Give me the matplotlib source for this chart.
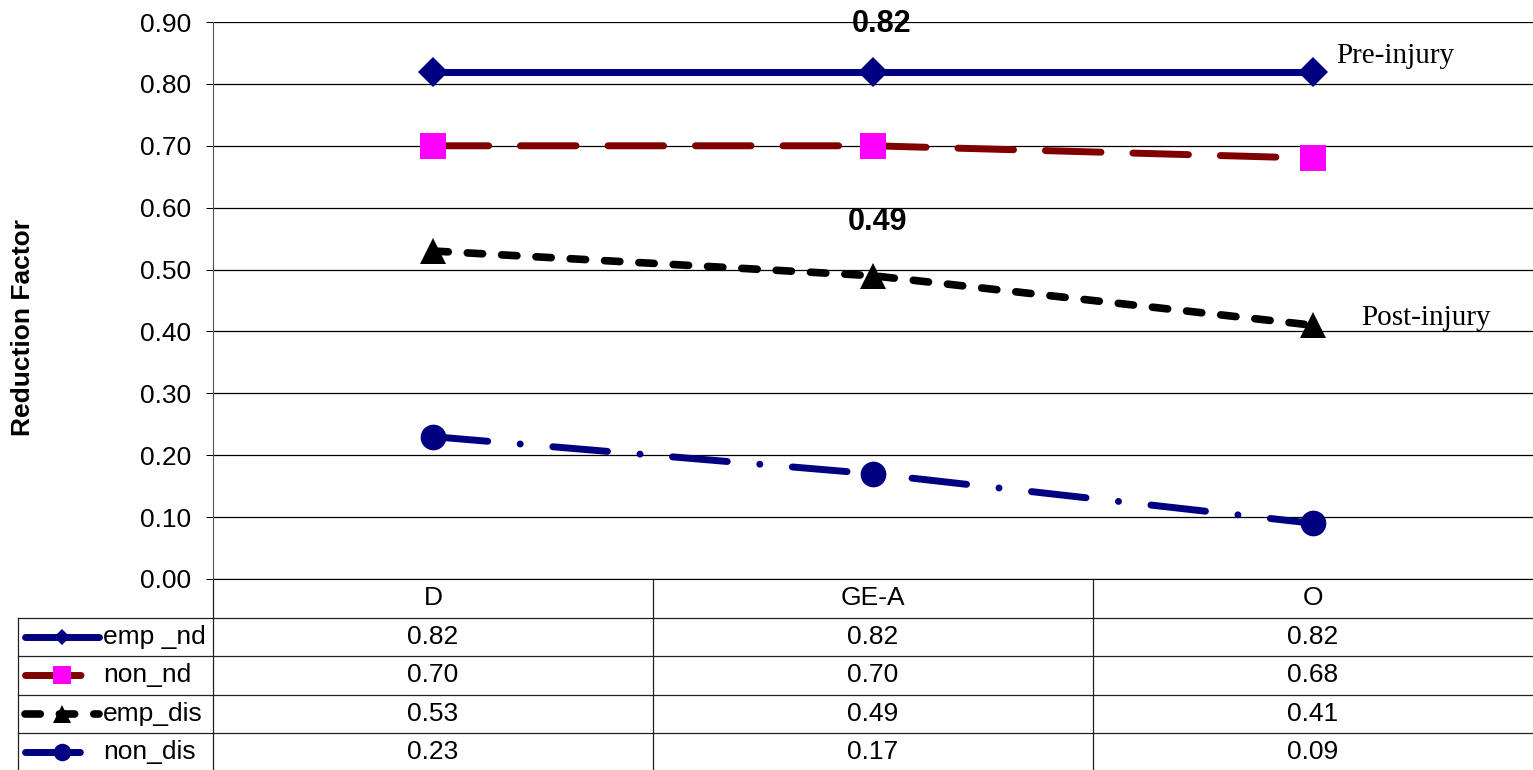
import numpy as np
import matplotlib
matplotlib.use("Agg")
import matplotlib.pyplot as plt

plt.rcParams['font.family'] = ['Liberation Sans', 'DejaVu Sans']

# --- data ---
categories = ["D", "GE-A", "O"]
series_names = ["emp _nd", "non_nd", "emp_dis", "non_dis"]
emp_nd = [0.82, 0.82, 0.82]
non_nd = [0.70, 0.70, 0.68]
emp_dis = [0.53, 0.49, 0.41]
non_dis = [0.23, 0.17, 0.09]
values = [emp_nd, non_nd, emp_dis, non_dis]

# --- styles ---
navy = '#000080'
styles = [
    dict(color=navy, lw=5, ls='-', marker='D', ms=15, mfc=navy, mec=navy),
    dict(color='#800000', lw=5, ls=(0, (8, 4.6)), marker='s', ms=18.5,
         mfc='#FF00FF', mec='#FF00FF'),
    dict(color='black', lw=5.5, ls=(0, (2, 2.5)), marker='^', ms=18.5,
         mfc='black', mec='black'),
    dict(color=navy, lw=5, ls=(0, (7.9, 4.7, 0.01, 4.7)), marker='o', ms=18.5,
         mfc=navy, mec=navy),
]
legend_scale = [0.56, 0.68, 0.68, 0.68]

W, H = 1533, 770
fig = plt.figure(figsize=(W / 100, H / 100), dpi=100)
ax = fig.add_axes([213 / W, 191 / H, 1320 / W, 557 / H])

x = np.arange(len(categories))
for vals, st in zip(values, styles):
    ax.plot(x, vals, mew=0, dash_capstyle='round', solid_capstyle='round',
            clip_on=False, zorder=3, **st)

ax.set_xlim(-0.5, 2.5)
ax.set_ylim(0, 0.9)
ax.set_yticks(np.arange(0, 0.91, 0.1))
ax.yaxis.set_major_formatter(matplotlib.ticker.StrMethodFormatter('{x:.2f}'))
ax.set_xticks([])
ax.tick_params(axis='y', length=5, width=0.75, pad=11, labelsize=19)
ax.grid(axis='y', color='black', lw=0.9)
for s in ['top', 'right']:
    ax.spines[s].set_visible(False)
ax.spines['left'].set_color('#555555')
ax.spines['bottom'].set_color('black')

# data labels
ax.annotate(f"{emp_nd[1]:.2f}", (1, emp_nd[1]), xytext=(6, 34), textcoords='offset points',
            ha='center', va='center', fontsize=22, fontweight='bold')
ax.annotate(f"{emp_dis[1]:.2f}", (1, emp_dis[1]), xytext=(3, 39), textcoords='offset points',
            ha='center', va='center', fontsize=22, fontweight='bold')

# text notes
ax.annotate("Pre-injury", (2, emp_nd[2]), xytext=(17, 6), textcoords='offset points',
            ha='left', va='baseline', fontsize=21, family='Liberation Serif',
            annotation_clip=False)
ax.annotate("Post-injury", (2, emp_dis[2]), xytext=(35, 0), textcoords='offset points',
            ha='left', va='baseline', fontsize=21, family='Liberation Serif',
            annotation_clip=False)

fig.text(23 / W, 1 - 328 / H, "Reduction Factor", rotation=90, ha='center', va='center',
         fontsize=19, fontweight='bold')

# --- data table under the chart ---
row_h = 38.5
tab = fig.add_axes([213 / W, 0, 1320 / W, 191 / H])
tab.set_xlim(-0.5, 2.5)
tab.set_ylim(191 / row_h, 0)
tab.axis('off')


def px(p):
    return -0.5 + (p - 213) / 440.0


lkw = dict(color='#222222', lw=0.9, clip_on=False)
for r in range(1, 5):
    tab.plot([px(18), 2.5], [r, r], **lkw)
tab.plot([px(18), px(18)], [1, 5], **lkw)
for b in [-0.5, 0.5, 1.5]:
    tab.plot([b, b], [0, 5], **lkw)

for j, c in enumerate(categories):
    tab.text(j, 0.5, c, ha='center', va='center', fontsize=19)

for i, (name, vals, st) in enumerate(zip(series_names, values, styles)):
    yc = i + 1.5
    for j, v in enumerate(vals):
        tab.text(j, yc, f"{v:.2f}", ha='center', va='center', fontsize=19)
    st2 = dict(st)
    st2['ms'] = st['ms'] * legend_scale[i]
    xe = 99 if i in (0, 2) else 88
    tab.plot([px(25), px(62), px(xe)], [yc, yc, yc], mew=0, markevery=[1],
             dash_capstyle='round', solid_capstyle='round', clip_on=False, **st2)
    tab.text(px(103), yc, name, ha='left', va='center', fontsize=19)

fig.savefig("out.png", dpi=100)
